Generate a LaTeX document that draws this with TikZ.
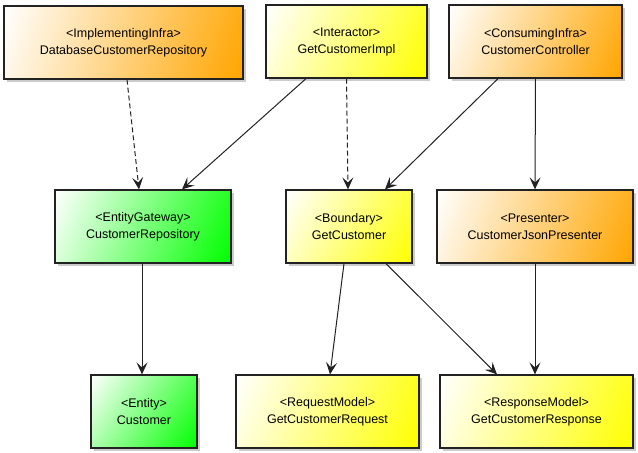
\documentclass[tikz,border=0pt]{standalone}
\usepackage{fontspec}
\setmainfont{Liberation Sans}
\usetikzlibrary{arrows.meta,shadows,calc}

\definecolor{infra}{HTML}{FFA500}
\definecolor{usecase}{HTML}{FFFF00}
\definecolor{entity}{HTML}{00FF00}
\definecolor{edge}{HTML}{222222}

\tikzset{
box/.style={
draw=edge,line width=1.2pt,fill=white,
path picture={
\path let \p1=($(path picture bounding box.north east)-(path picture bounding box.south west)$),
\n1={veclen(\x1,\y1)},\n2={atan2(\x1,\y1)} in
[top color=white,bottom color=#1,shading angle=\n2]
($(path picture bounding box.center)-(0.5*\n1,0.5*\n1)$) rectangle +(\n1,\n1);
},
drop shadow={shadow xshift=3pt,shadow yshift=-3pt,opacity=.2,fill=black},
minimum height=73pt,inner sep=0pt,
align=center,font=\fontsize{12.5}{17}\selectfont
},
dep/.style={
-{Stealth[length=12pt,width=11pt,inset=5pt]},
line width=1pt,draw=edge
},
}

\begin{document}
\begin{tikzpicture}[x=1pt,y=-1pt]
\useasboundingbox (0,0) rectangle (638,453);
\foreach \n/\x/\y/\w/\c/\t in {
dbrepo/123.5/42.5/239/infra/{<ImplementingInfra>\\DatabaseCustomerRepository},
impl/346.5/41.5/161/usecase/{<Interactor>\\GetCustomerImpl},
ctrl/535.5/41.5/173/infra/{<ConsumingInfra>\\CustomerController},
repo/143/226.5/176/entity/{<EntityGateway>\\CustomerRepository},
bound/349/226.5/126/usecase/{<Boundary>\\GetCustomer},
pres/535/226.5/196/infra/{<Presenter>\\CustomerJsonPresenter},
cust/144/411.5/106/entity/{<Entity>\\Customer},
req/327.5/411.5/183/usecase/{<RequestModel>\\GetCustomerRequest},
resp/536.5/411.5/193/usecase/{<ResponseModel>\\GetCustomerResponse}} {
\node[box=\c,minimum width=\w pt] (\n) at (\x,\y) {\t};
}
% realizations
\begin{scope}[dep,dash pattern=on 5pt off 3pt]
\draw ([xshift=3.5pt]dbrepo.south) -- ([xshift=-4pt]repo.north);
\draw (impl.south) -- ([xshift=-1pt]bound.north);
\end{scope}
% uses
\begin{scope}[dep]
\draw ([xshift=-40.5pt]impl.south) -- ([xshift=39pt]repo.north);
\draw ([xshift=-37.5pt]ctrl.south) -- ([xshift=36pt]bound.north);
\draw (ctrl.south) -- (pres.north);
\draw ([xshift=-1pt]repo.south) -- ([xshift=-2pt]cust.north);
\draw ([xshift=-5pt]bound.south) -- ([xshift=2.5pt]req.north);
\draw ([xshift=37pt]bound.south) -- ([xshift=-39.5pt]resp.north);
\draw (pres.south) -- ([xshift=-1.5pt]resp.north);
\end{scope}
\end{tikzpicture}
\end{document}
